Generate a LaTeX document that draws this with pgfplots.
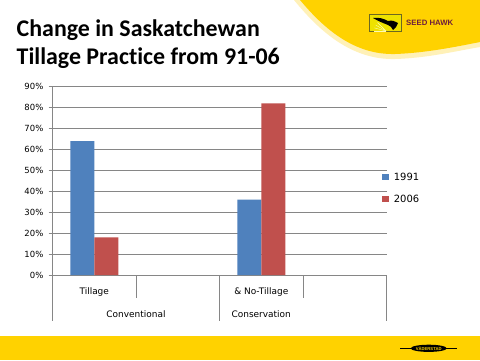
\documentclass[border=0pt]{standalone}
\usepackage{pgfplots}
\pgfplotsset{compat=1.18}
\usepackage{fontspec}
\setmainfont{DejaVu Sans}
\newfontfamily\titlefont{Carlito}[Ligatures=NoCommon]
\newfontfamily\logofont{Liberation Sans}
\definecolor{barblue}{HTML}{4F81BD}
\definecolor{barred}{HTML}{C0504D}
\definecolor{axgray}{HTML}{868686}
\definecolor{sunyellow}{HTML}{FFD200}
\definecolor{paleyellow}{HTML}{FFF1B8}
\definecolor{hawkred}{HTML}{6E1E3C}
\begin{document}
\begin{tikzpicture}
\begin{scope}[x=1bp,y=1bp]
\path[use as bounding box] (0,0) rectangle (480,360);
\fill[white] (0,0) rectangle (480,360);
% top swoosh
\fill[paleyellow] (294,360) .. controls (320,328) and (352,300) .. (395,301) .. controls (428,302) and (456,309) .. (480,313) -- (480,360) -- cycle;
\fill[sunyellow] (300,360) .. controls (325,330) and (355,305) .. (395,306) .. controls (425,307) and (455,313) .. (480,318) -- (480,360) -- cycle;
% seed hawk logo
\fill[yellow!85!olive] (369.5,328.5) rectangle (401.5,345.5);
\draw[olive!70!black, line width=0.5] (369.5,328.5) rectangle (401.5,345.5);
\foreach \a in {0,15,30,45}{\draw[white!70!yellow, line width=0.4] (386,329) -- ++(180-\a:12);}
\fill[black] (373,342) .. controls (380,343) and (384,341) .. (388,339) .. controls (392,340) and (395,339) .. (398,337) .. controls (397,334) and (395,331) .. (393,330) .. controls (392,333) and (390,334) .. (388,335) .. controls (383,337) and (378,339) .. (373,342) -- cycle;
\node[anchor=west, inner sep=0, text=hawkred] at (406,337.5) {\logofont\bfseries\fontsize{7.8}{8}\selectfont SEED HAWK};
% bottom band
\fill[sunyellow] (0,0) rectangle (480,24);
\draw[black, line width=1] (400,11.7) -- (456.7,11.7);
\fill[black] (428.7,11.7) ellipse (18 and 3.6);
\node[text=sunyellow, inner sep=0] at (428.7,11.7) {\logofont\bfseries\fontsize{4.2}{5}\selectfont VÄDERSTAD};
% title
\node[anchor=base west, inner sep=0] at (16.5,324) {\titlefont\bfseries\fontsize{24}{28}\selectfont Change in Saskatchewan};
\node[anchor=base west, inner sep=0] at (16.5,296) {\titlefont\bfseries\fontsize{24}{28}\selectfont Tillage Practice from 91-06};
\end{scope}
\begin{axis}[
  at={(52.5bp,85bp)}, anchor=south west,
  scale only axis, width=334bp, height=188.3bp,
  xmin=-0.5, xmax=3.5, ymin=0, ymax=90,
  clip=false,
  ybar=0pt, bar width=24bp,
  axis lines*=left,
  axis line style={draw=axgray, line width=0.8bp},
  ymajorgrids, grid style={draw=axgray, line width=0.8bp},
  ytick={0,10,...,90},
  yticklabel={\pgfmathprintnumber{\tick}\%},
  /pgf/number format/assume math mode=true,
  ticklabel style={font=\fontsize{8.5}{10}\selectfont},
  yticklabel style={inner sep=0pt, xshift=-5bp},
  tick align=outside, major tick length=4bp,
  ytick style={draw=axgray, line width=0.8bp},
  xtick=\empty,
  legend style={draw=none, fill=none, at={(axis description cs:0.978,0.462)}, anchor=west,
    font=\fontsize{10}{12}\selectfont, row sep=14.5bp, column sep=5bp,
    nodes={inner sep=0pt, text height=7.5bp, text depth=0bp}},
  legend cell align=left,
  legend image code/.code={\fill[#1] (0bp,-3.3bp) rectangle (6.5bp,3.3bp);},
]
\addplot[fill=barblue, draw=none] coordinates {(0,64) (2,36)};
\addplot[fill=barred, draw=none] coordinates {(0,18) (2,82)};
\legend{1991,2006}
\draw[axgray, line width=0.8bp] (axis cs:-0.5,0) -- ++(0bp,-45.7bp);
\draw[axgray, line width=0.8bp] (axis cs:1.5,0) -- ++(0bp,-45.7bp);
\draw[axgray, line width=0.8bp] (axis cs:3.5,0) -- ++(0bp,-45.7bp);
\draw[axgray, line width=0.8bp] (axis cs:0.5,0) -- ++(0bp,-22.7bp);
\draw[axgray, line width=0.8bp] (axis cs:2.5,0) -- ++(0bp,-22.7bp);
\node[font=\fontsize{9}{11}\selectfont, anchor=base] at ([yshift=-19bp]axis cs:0,0) {Tillage};
\node[font=\fontsize{9}{11}\selectfont, anchor=base] at ([yshift=-19bp]axis cs:2,0) {\& No-Tillage};
\node[font=\fontsize{9}{11}\selectfont, anchor=base] at ([yshift=-42bp]axis cs:0.5,0) {Conventional};
\node[font=\fontsize{9}{11}\selectfont, anchor=base] at ([yshift=-42bp]axis cs:2,0) {Conservation};
\end{axis}
\end{tikzpicture}
\end{document}
